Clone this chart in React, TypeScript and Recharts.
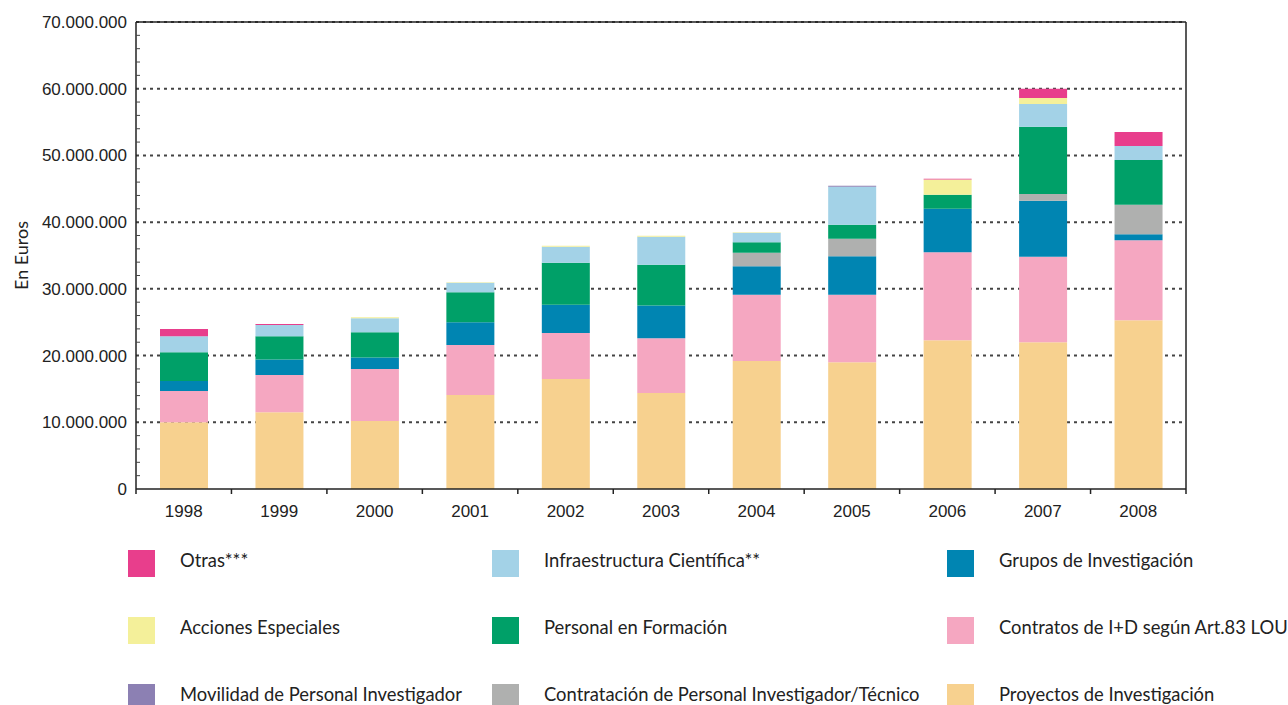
import React from "react"
import {
  BarChart,
  Bar,
  XAxis,
  YAxis,
  CartesianGrid,
  ReferenceLine,
} from "recharts"

// años
const years = ["1998", "1999", "2000", "2001", "2002", "2003", "2004", "2005", "2006", "2007", "2008"]

// importes en euros, por línea de financiación
const proyectos = [10000000, 11500000, 10200000, 14100000, 16500000, 14400000, 19200000, 19000000, 22300000, 22000000, 25300000]
const contratos = [4700000, 5600000, 7800000, 7500000, 6900000, 8200000, 9900000, 10100000, 13200000, 12800000, 12000000]
const grupos = [1500000, 2300000, 1700000, 3400000, 4200000, 4900000, 4300000, 5800000, 6500000, 8400000, 900000]
const contratacion = [0, 0, 0, 0, 0, 0, 2000000, 2600000, 0, 1000000, 4400000]
const formacion = [4300000, 3500000, 3800000, 4500000, 6300000, 6100000, 1600000, 2100000, 2100000, 10100000, 6700000]
const infraestructura = [2400000, 1700000, 2100000, 1400000, 2400000, 4200000, 1400000, 5700000, 0, 3400000, 2100000]
const movilidad = [0, 0, 0, 0, 0, 0, 0, 150000, 0, 0, 0]
const acciones = [0, 0, 150000, 100000, 150000, 150000, 100000, 0, 2300000, 900000, 0]
const otras = [1100000, 150000, 0, 0, 0, 0, 0, 0, 100000, 1400000, 2100000]

const majorTicks = [0, 10000000, 20000000, 30000000, 40000000, 50000000, 60000000, 70000000]
const minorStep = 2000000
const yMax = 70000000

// orden de apilado, de abajo a arriba
const series = [
  { key: "proyectos", name: "Proyectos de Investigación", color: "#F7D18F", values: proyectos },
  { key: "contratos", name: "Contratos de I+D según Art.83 LOU", color: "#F5A7C1", values: contratos },
  { key: "grupos", name: "Grupos de Investigación", color: "#0085B2", values: grupos },
  { key: "contratacion", name: "Contratación de Personal Investigador/Técnico", color: "#AFB0AF", values: contratacion },
  { key: "formacion", name: "Personal en Formación", color: "#00A068", values: formacion },
  { key: "infraestructura", name: "Infraestructura Científica**", color: "#A3D2E7", values: infraestructura },
  { key: "movilidad", name: "Movilidad de Personal Investigador", color: "#8C80B3", values: movilidad },
  { key: "acciones", name: "Acciones Especiales", color: "#F4F09A", values: acciones },
  { key: "otras", name: "Otras***", color: "#E83E8C", values: otras },
]

// leyenda en columnas
const legendColumns = [
  ["otras", "acciones", "movilidad"],
  ["infraestructura", "formacion", "contratacion"],
  ["grupos", "contratos", "proyectos"],
]

const data = years.map((year, i) => {
  const row: Record<string, string | number> = { year }
  series.forEach((s) => {
    row[s.key] = s.values[i]
  })
  return row
})

const yTicks: number[] = []
for (let v = 0; v <= yMax; v += minorStep) yTicks.push(v)

const fmt = (v: number) => String(v).replace(/\B(?=(\d{3})+(?!\d))/g, ".")

const axisFont = "'Liberation Sans', Arial, sans-serif"
const legendFont = "Lato, 'Open Sans', sans-serif"

const YTick = (props: any) => {
  const { x, y, payload } = props
  const v = payload.value as number
  if (majorTicks.includes(v)) {
    return (
      <text x={x - 9} y={y} dy={6} textAnchor="end" fontSize={17} fill="#222" fontFamily={axisFont}>
        {fmt(v)}
      </text>
    )
  }
  return <line x1={x} x2={x + 4} y1={y} y2={y} stroke="#444" strokeWidth={1} />
}

const XTick = (props: any) => {
  const { x, y, payload } = props
  const half = payload.offset || 47.7
  const last = payload.index === years.length - 1
  return (
    <g>
      <line x1={x - half} x2={x - half} y1={y} y2={y + 5} stroke="#222" strokeWidth={1.5} />
      {last && <line x1={x + half} x2={x + half} y1={y} y2={y + 5} stroke="#222" strokeWidth={1.5} />}
      <text x={x} y={y + 28} textAnchor="middle" fontSize={17} fill="#222" fontFamily={axisFont}>
        {payload.value}
      </text>
    </g>
  )
}

const App = () => {
  const byKey = Object.fromEntries(series.map((s) => [s.key, s]))
  const colX = [128, 492, 947]
  const rowY = [550, 617, 684]

  return (
    <div style={{ position: "absolute", left: 0, top: 0, width: 1288, height: 705, background: "#fff", overflow: "hidden" }}>
      <BarChart
        width={1288}
        height={705}
        data={data}
        margin={{ top: 22, right: 101, bottom: 186, left: 0 }}
        barSize={48}
      >
        <CartesianGrid
          vertical={false}
          horizontalValues={majorTicks.slice(1)}
          yAxisId="left"
          stroke="#444"
          strokeWidth={2}
          strokeDasharray="3 4"
        />
        <XAxis
          dataKey="year"
          height={30}
          interval={0}
          tickSize={0}
          tickMargin={0}
          tickLine={false}
          axisLine={{ stroke: "#222", strokeWidth: 1.5 }}
          tick={<XTick />}
        />
        <YAxis
          yAxisId="left"
          width={136}
          domain={[0, yMax]}
          ticks={yTicks}
          interval={0}
          tickSize={0}
          tickMargin={0}
          tickLine={false}
          axisLine={{ stroke: "#222", strokeWidth: 1.5 }}
          tick={<YTick />}
          label={{
            value: "En Euros",
            angle: -90,
            position: "center",
            dx: -46,
            style: { fontSize: 18, fill: "#222", fontFamily: legendFont },
          }}
        />
        <YAxis
          yAxisId="right"
          orientation="right"
          width={1}
          domain={[0, yMax]}
          tick={false}
          tickLine={false}
          axisLine={{ stroke: "#222", strokeWidth: 1.5 }}
        />
        {series.map((s) => (
          <Bar
            key={s.key}
            yAxisId="left"
            dataKey={s.key}
            name={s.name}
            stackId="a"
            fill={s.color}
            isAnimationActive={false}
          />
        ))}
        <ReferenceLine yAxisId="left" y={yMax} stroke="#222" strokeWidth={1.5} />
      </BarChart>
      {legendColumns.map((col, ci) =>
        col.map((key, ri) => {
          const s = byKey[key]
          return (
            <div key={key}>
              <div
                style={{
                  position: "absolute",
                  left: colX[ci],
                  top: rowY[ri],
                  width: 27,
                  height: 27,
                  background: s.color,
                }}
              />
              <div
                style={{
                  position: "absolute",
                  left: colX[ci] + 52,
                  top: rowY[ri] - 3,
                  lineHeight: "27px",
                  fontSize: 18.4,
                  color: "#222",
                  fontFamily: legendFont,
                  whiteSpace: "nowrap",
                }}
              >
                {s.name}
              </div>
            </div>
          )
        })
      )}
    </div>
  )
}

export default App
